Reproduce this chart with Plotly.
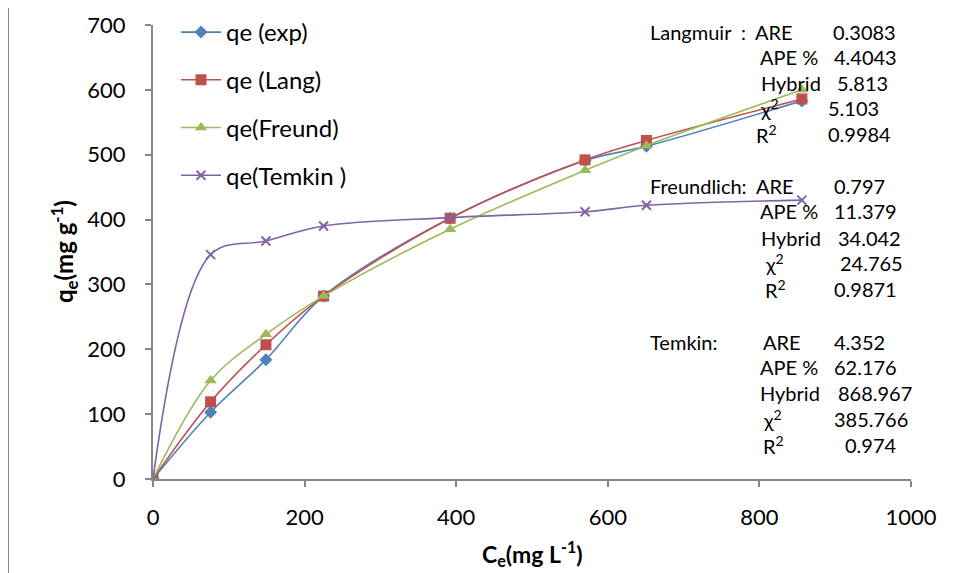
import plotly.graph_objects as go

# ---------------- data ----------------
ce = [0, 76, 149, 225, 392, 570, 651, 856]
qe_exp = [0, 103, 184, 282, 402, 491, 513, 583]
qe_lang = [0, 119, 207, 282, 402, 492, 522, 586]
qe_freund = [0, 152, 223, 282, 385, 476, 514, 600]
qe_temkin = [0, 346, 367, 390, 403, 412, 422, 430]

series_names = ["qe (exp)", "qe (Lang)", "qe(Freund)", "qe(Temkin )"]
series_values = [qe_exp, qe_lang, qe_freund, qe_temkin]
series_colors = ["#4F81BD", "#C0504D", "#9BBB59", "#8064A2"]
series_symbols = ["diamond", "square", "triangle-up", "x-thin"]
series_sizes = [10, 11, 11, 9]

model_names = ["Langmuir", "Freundlich:", "Temkin:"]
stat_labels = ["ARE", "APE %", "Hybrid", "χ<sup>2</sup>", "R<sup>2</sup>"]
langmuir_stats = ["0.3083", "4.4043", "5.813", "5.103", "0.9984"]
freundlich_stats = ["0.797", "11.379", "34.042", "24.765", "0.9871"]
temkin_stats = ["4.352", "62.176", "868.967", "385.766", "0.974"]

x_ticks = [0, 200, 400, 600, 800, 1000]
y_ticks = [0, 100, 200, 300, 400, 500, 600, 700]

FONT = "Lato"
OFF = 8  # page body margin of the html page
W, H = 956 - OFF, 573 - OFF
L, R, T, B = 153, 911, 25, 479  # plot-area pixel edges in the screenshot
PAD = 2  # annotation box padding


def px(xp):
    return (xp - L) / (R - L)


def py(yp):
    return (B - yp) / (B - T)


fig = go.Figure()
for name, vals, col, sym, sz in zip(series_names, series_values, series_colors,
                                     series_symbols, series_sizes):
    marker = dict(symbol=sym, size=sz, color=col)
    if sym == "x-thin":
        marker["line"] = dict(color=col, width=2)
    fig.add_trace(go.Scatter(
        x=ce, y=vals, name=name, mode="lines+markers",
        line=dict(color=col, width=1.6, shape="spline", smoothing=1.0),
        marker=marker, legendgroup=name,
    ))

annotations = []
ANN = 20


def add_text(xp, yp, text, size=ANN):
    annotations.append(dict(x=px(xp - PAD), y=py(yp), xref="paper", yref="paper",
                            text=text, showarrow=False, xanchor="left",
                            yanchor="middle",
                            font=dict(family=FONT, size=size, color="#000000")))


# Langmuir block
add_text(650, 32, model_names[0])
add_text(741, 32, ":")
add_text(755, 32, stat_labels[0])
add_text(833, 32, langmuir_stats[0])
lang_rows = [(57, 760, 834), (83, 761, 837), (108, 760, 828), (134, 756, 828)]
for i, (yy, xl, xv) in enumerate(lang_rows, start=1):
    add_text(xl, yy, stat_labels[i])
    add_text(xv, yy, langmuir_stats[i])

# Freundlich block
add_text(650, 186, model_names[1])
add_text(756, 186, stat_labels[0])
add_text(834, 186, freundlich_stats[0])
fr_rows = [(211, 760, 834), (238, 761, 838), (263, 765, 840), (289, 765, 834)]
for i, (yy, xl, xv) in enumerate(fr_rows, start=1):
    add_text(xl, yy, stat_labels[i])
    add_text(xv, yy, freundlich_stats[i])

# Temkin block
add_text(650, 342, model_names[2])
tk_rows = [(342, 763, 834), (367, 760, 834), (393, 760, 838), (419, 763, 834), (445, 763, 845)]
for i, (yy, xl, xv) in enumerate(tk_rows):
    add_text(xl, yy, stat_labels[i])
    add_text(xv, yy, temkin_stats[i])

# axis titles
annotations.append(dict(x=px(532), y=py(553), xref="paper", yref="paper",
                        text="<b>C<sub>e</sub>(mg L<sup>-1</sup>)</b>", showarrow=False,
                        xanchor="center", yanchor="middle",
                        font=dict(family=FONT, size=23, color="#000000")))
annotations.append(dict(x=px(64), y=py(252), xref="paper", yref="paper",
                        text="<b>q<sub>e</sub>(mg g<sup>-1</sup>)</b>", showarrow=False,
                        xanchor="center", yanchor="middle", textangle=-90,
                        font=dict(family=FONT, size=24, color="#000000")))

axis_common = dict(showgrid=False, zeroline=False, showline=True,
                   linecolor="#868686", linewidth=2, ticks="outside",
                   ticklen=6, tickwidth=2, tickcolor="#868686",
                   tickfont=dict(family=FONT, size=22, color="#000000"))

fig.update_layout(
    width=W, height=H,
    margin=dict(l=L - OFF, r=956 - R, t=T - OFF, b=573 - B, autoexpand=False),
    paper_bgcolor="white", plot_bgcolor="white",
    xaxis=dict(range=[0, 1000], tickvals=x_ticks, ticklabelstandoff=12, **axis_common),
    yaxis=dict(range=[0, 700], tickvals=y_ticks, ticklabelstandoff=15, **axis_common),
    legend=dict(x=px(176), y=py(10), xanchor="left", yanchor="top",
                font=dict(family=FONT, size=24, color="#000000"),
                bgcolor="rgba(0,0,0,0)", tracegroupgap=13.5, itemwidth=40),
    annotations=annotations,
    shapes=[dict(type="rect", xref="paper", yref="paper",
                 x0=px(8), y0=py(7), x1=px(990), y1=py(600),
                 line=dict(color="#868686", width=2), layer="below")],
    showlegend=True,
)

fig.write_html("out.html")
